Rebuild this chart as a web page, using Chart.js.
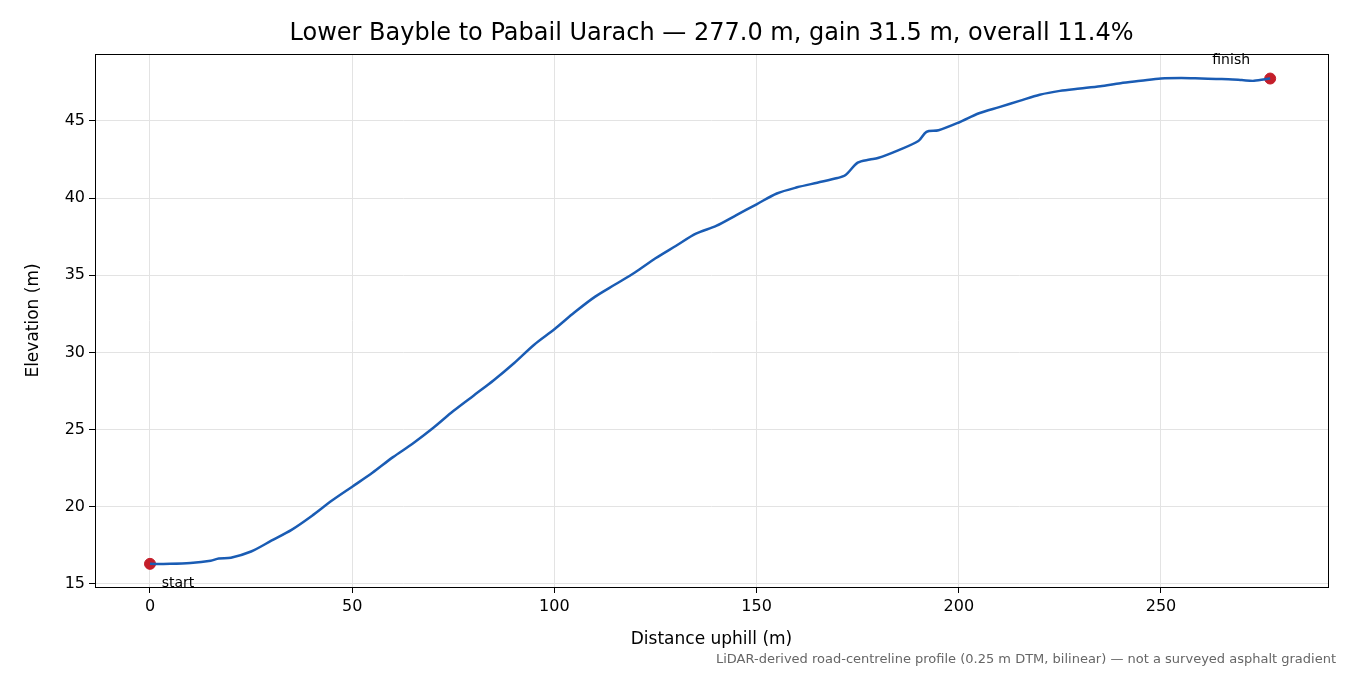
<!DOCTYPE html>
<html><head><meta charset="utf-8">
<script src="https://cdn.jsdelivr.net/npm/chart.js@4"></script>
<style>html,body{margin:0;padding:0;background:#fff}#w{width:1350px;height:675px}</style>
</head><body><div id="w"><canvas id="c"></canvas></div>
<script>
const distance = [0,5,10,15,17,20,25,30,35,40,45,50,55,60,65,70,75,80,85,90,95,100,105,110,115,120,125,130,135,140,145,150,155,160,165,170,172,175,178,180,185,190,192,195,200,205,210,215,220,225,230,235,240,245,250,255,260,265,270,273,277];
const elevation = [16.3,16.3,16.35,16.5,16.65,16.7,17.1,17.8,18.5,19.4,20.4,21.3,22.2,23.2,24.1,25.1,26.2,27.2,28.2,29.3,30.5,31.5,32.6,33.6,34.4,35.2,36.1,36.9,37.7,38.2,38.9,39.6,40.3,40.7,41.0,41.3,41.5,42.3,42.5,42.6,43.1,43.7,44.3,44.4,44.9,45.5,45.9,46.3,46.7,46.95,47.1,47.25,47.45,47.6,47.75,47.78,47.75,47.72,47.65,47.6,47.75];
const endpoints = [{x:0,y:16.3,label:'start'},{x:277,y:47.75,label:'finish'}];
const titleText = 'Lower Bayble to Pabail Uarach — 277.0 m, gain 31.5 m, overall 11.4%';
const xTitle = 'Distance uphill (m)';
const yTitle = 'Elevation (m)';
const footText = 'LiDAR-derived road-centreline profile (0.25 m DTM, bilinear) — not a surveyed asphalt gradient';
const F = 'DejaVu Sans';
const deco = {id:'deco', afterDraw(ch){
  const c=ch.ctx, a=ch.chartArea, xs=ch.scales.x, ys=ch.scales.y;
  c.save();
  c.strokeStyle='#000'; c.lineWidth=1; c.strokeRect(a.left+0.5,a.top+0.5,a.right-a.left,a.bottom-a.top);
  c.fillStyle='#000'; c.font='24px '+F; c.textAlign='center'; c.textBaseline='middle';
  c.fillText(titleText,(a.left+a.right)/2,34);
  c.font='17px '+F;
  c.fillText(xTitle,(a.left+a.right)/2,640);
  c.save(); c.translate(34,(a.top+a.bottom)/2); c.rotate(-Math.PI/2); c.fillText(yTitle,0,0); c.restore();
  c.font='14px '+F;
  const s=endpoints[0], f=endpoints[1];
  c.fillText(s.label, xs.getPixelForValue(s.x)+28, ys.getPixelForValue(s.y)+20);
  c.fillText(f.label, xs.getPixelForValue(f.x)-39, ys.getPixelForValue(f.y)-18);
  c.fillStyle='#666'; c.font='13px '+F; c.textAlign='right';
  c.fillText(footText,1336,660);
  c.restore();
}};
new Chart(document.getElementById('c'),{
  type:'scatter',
  data:{datasets:[
    {data:distance.map((d,i)=>({x:d,y:elevation[i]})),showLine:true,borderColor:'#1a5cb4',borderWidth:2.5,pointRadius:0,tension:0.3},
    {data:endpoints.map(e=>({x:e.x,y:e.y})),pointRadius:5.5,pointBackgroundColor:'#c41e2a',pointBorderColor:'#c41e2a',showLine:false}
  ]},
  options:{responsive:true,maintainAspectRatio:false,animation:false,
    layout:{padding:{top:54,right:22,left:0,bottom:0}},
    plugins:{legend:{display:false},tooltip:{enabled:false}},
    scales:{
      x:{type:'linear',min:-13.6,max:291.3,afterBuildTicks(s){s.ticks=[0,50,100,150,200,250].map(v=>({value:v}));},
        afterFit(s){s.height=88;},
        grid:{color:'#e3e3e3',tickColor:'#000',tickLength:6},border:{display:false},
        ticks:{color:'#000',font:{family:F,size:16},padding:4,maxRotation:0}},
      y:{min:14.8,max:49.34,afterBuildTicks(s){s.ticks=[15,20,25,30,35,40,45].map(v=>({value:v}));},
        afterFit(s){s.width=95;},
        grid:{color:'#e3e3e3',tickColor:'#000',tickLength:6},border:{display:false},
        ticks:{color:'#000',font:{family:F,size:16},padding:4}}
    }},
  plugins:[deco]
});
</script></body></html>
